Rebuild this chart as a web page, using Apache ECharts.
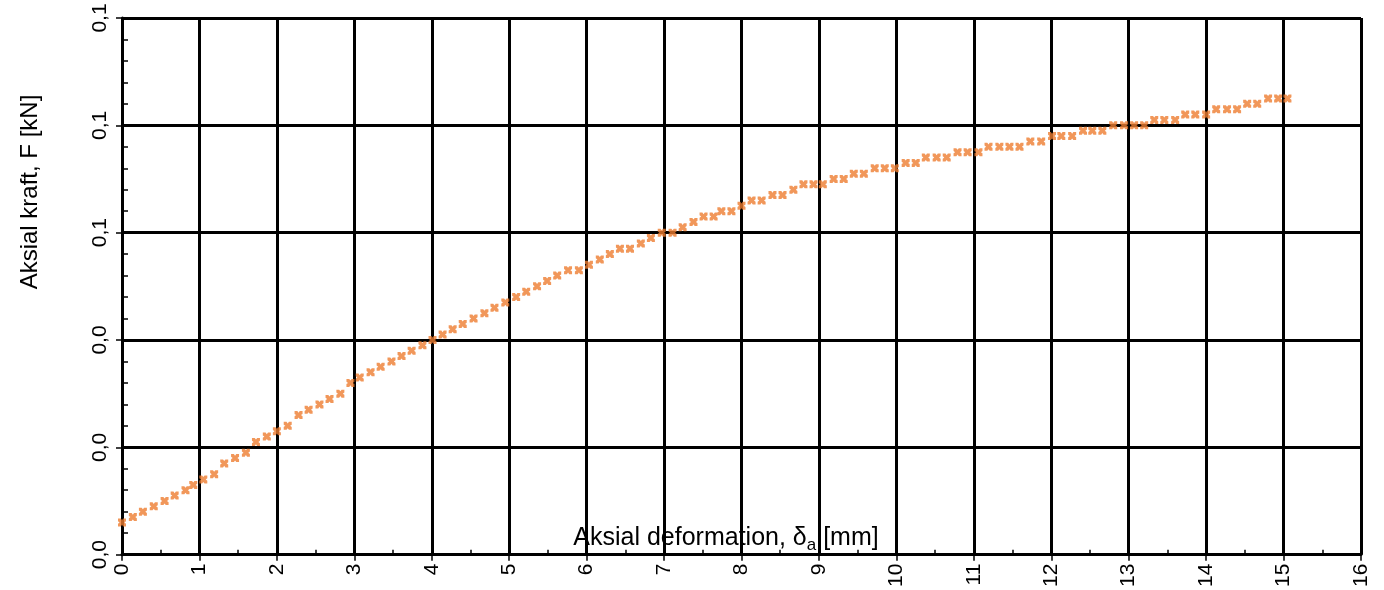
<!DOCTYPE html>
<html>
<head>
<meta charset="utf-8">
<script src="https://cdn.jsdelivr.net/npm/echarts@6/dist/echarts.min.js"></script>
<style>
html,body{margin:0;padding:0;background:#fff;}
#c{width:1384px;height:590px;}
</style>
</head>
<body>
<div id="c"></div>
<script>
// Aksial deformation [mm]
const deformation = [
  0.00,0.14,0.27,0.41,0.55,0.68,0.82,0.92,1.05,1.19,
  1.32,1.46,1.60,1.73,1.87,2.00,2.14,2.28,2.41,2.55,
  2.68,2.82,2.95,3.07,3.21,3.34,3.48,3.61,3.74,3.88,
  4.01,4.14,4.27,4.40,4.54,4.68,4.81,4.95,5.09,5.22,
  5.36,5.49,5.62,5.76,5.90,6.03,6.17,6.30,6.43,6.56,
  6.70,6.83,6.97,7.11,7.24,7.38,7.51,7.64,7.74,7.87,
  8.00,8.13,8.26,8.40,8.53,8.67,8.80,8.93,9.05,9.19,
  9.32,9.45,9.58,9.72,9.85,9.98,10.12,10.25,10.38,10.52,
  10.65,10.79,10.92,11.06,11.19,11.33,11.46,11.59,11.73,11.87,
  12.01,12.13,12.27,12.41,12.53,12.66,12.80,12.94,13.07,13.20,
  13.33,13.46,13.60,13.73,13.86,14.00,14.13,14.27,14.40,14.53,
  14.66,14.80,14.93,15.05
];
// Aksial kraft [kN]
const force = [
  0.006,0.007,0.008,0.009,0.010,0.011,0.012,0.013,0.014,0.015,
  0.017,0.018,0.019,0.021,0.022,0.023,0.024,0.026,0.027,0.028,
  0.029,0.030,0.032,0.033,0.034,0.035,0.036,0.037,0.038,0.039,
  0.040,0.041,0.042,0.043,0.044,0.045,0.046,0.047,0.048,0.049,
  0.050,0.051,0.052,0.053,0.053,0.054,0.055,0.056,0.057,0.057,
  0.058,0.059,0.060,0.060,0.061,0.062,0.063,0.063,0.064,0.064,
  0.065,0.066,0.066,0.067,0.067,0.068,0.069,0.069,0.069,0.070,
  0.070,0.071,0.071,0.072,0.072,0.072,0.073,0.073,0.074,0.074,
  0.074,0.075,0.075,0.075,0.076,0.076,0.076,0.076,0.077,0.077,
  0.078,0.078,0.078,0.079,0.079,0.079,0.080,0.080,0.080,0.080,
  0.081,0.081,0.081,0.082,0.082,0.082,0.083,0.083,0.083,0.084,
  0.084,0.085,0.085,0.085
];
const xTitle = 'Aksial deformation, δ';
const xTitleSub = 'a';
const xTitleUnit = ' [mm]';
const yTitle = 'Aksial kraft, F [kN]';

const points = deformation.map((d, i) => [d, force[i]]);
const FONT = 'Liberation Sans';

const chart = echarts.init(document.getElementById('c'), null, {renderer: 'canvas'});
chart.setOption({
  animation: false,
  backgroundColor: '#ffffff',
  grid: {left: 122, right: 23, top: 18, bottom: 34, containLabel: false},
  xAxis: {
    type: 'value', min: 0, max: 16, interval: 1,
    axisLine: {show: true, onZero: false, lineStyle: {color: '#000', width: 3}},
    axisTick: {show: true, inside: false, length: 6, lineStyle: {color: '#000', width: 1.5}},
    minorTick: {show: true, splitNumber: 2, length: -5, lineStyle: {color: '#000', width: 1.5}},
    splitLine: {show: true, lineStyle: {color: '#000', width: 3}},
    axisLabel: {show: true, rotate: 90, margin: 9, hideOverlap: false,
      color: '#000', fontSize: 21, fontFamily: FONT}
  },
  yAxis: {
    type: 'value', min: 0, max: 0.1, interval: 0.02,
    axisLine: {show: true, onZero: false, lineStyle: {color: '#000', width: 3}},
    axisTick: {show: true, inside: false, length: 6, lineStyle: {color: '#000', width: 1.5}},
    minorTick: {show: true, splitNumber: 5, length: -6, lineStyle: {color: '#000', width: 1.5}},
    splitLine: {show: true, lineStyle: {color: '#000', width: 3}},
    axisLabel: {show: true, rotate: 90, margin: 11, hideOverlap: false,
      color: '#000', fontSize: 21, fontFamily: FONT,
      formatter: v => v.toFixed(1).replace('.', ',')}
  },
  graphic: [
    {
      type: 'text', x: 30, y: 192, rotation: Math.PI / 2,
      style: {text: yTitle, fill: '#000', fontSize: 24, fontFamily: FONT, textAlign: 'center', textVerticalAlign: 'middle'},
      z: 10
    },
    {
      type: 'text', x: 726, y: 540,
      style: {
        text: '{n|' + xTitle + '}{s|' + xTitleSub + '}{n|' + xTitleUnit + '}',
        textAlign: 'center', textVerticalAlign: 'middle',
        rich: {
          n: {fontSize: 25, fontFamily: FONT, fill: '#000', lineHeight: 28, verticalAlign: 'top'},
          s: {fontSize: 17, fontFamily: FONT, fill: '#000', lineHeight: 17, padding: [14, 0, 0, 0], verticalAlign: 'bottom'}
        }
      },
      z: 10
    }
  ],
  series: [{
    type: 'scatter',
    data: points,
    symbol: 'path://M0,0 L3.5,0 L5,2 L6.5,0 L10,0 L10,3.5 L8,5 L10,6.5 L10,10 L6.5,10 L5,8 L3.5,10 L0,10 L0,6.5 L2,5 L0,3.5 Z',
    symbolSize: 8,
    itemStyle: {color: '#ED7D31'},
    z: 5
  }]
});
</script>
</body>
</html>
